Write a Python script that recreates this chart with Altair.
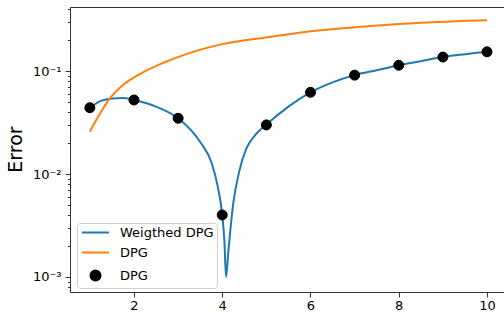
import altair as alt
import pandas as pd

# Weighted DPG curve
w_k = [1.0, 1.25, 1.5, 1.75, 2.0, 2.5, 3.0, 3.5, 3.76, 3.9, 4.0, 4.05, 4.085, 4.14, 4.25, 4.39, 4.55, 4.75, 5.0,
       5.5, 6.0, 6.5, 7.0, 7.5, 8.0, 8.5, 9.0, 9.5, 10.0]
w_err = [0.0441, 0.0513, 0.0542, 0.0548, 0.0524, 0.0451, 0.0348, 0.0205, 0.0128, 0.0075, 0.0040, 0.0022, 0.0010,
         0.0018, 0.0052, 0.0108, 0.0178, 0.0240, 0.0302,
         0.0452, 0.0622, 0.0778, 0.0914, 0.102, 0.114, 0.125, 0.137, 0.146, 0.154]

# DPG curve
d_k = [1.0, 1.25, 1.44, 1.68, 1.9, 2.0, 2.59, 2.82, 3.3, 3.95, 5.08, 6.22, 7.35, 8.63, 10.0]
d_err = [0.0258, 0.040, 0.0535, 0.069, 0.0818, 0.087, 0.117, 0.128, 0.152, 0.181, 0.215, 0.249, 0.274, 0.297, 0.312]

# DPG points
p_k = [1, 2, 3, 4, 5, 6, 7, 8, 9, 10]
p_err = [0.0441, 0.0524, 0.0348, 0.0040, 0.0300, 0.0622, 0.0914, 0.114, 0.137, 0.154]

x_ticks = [2, 4, 6, 8, 10]
y_major = [0.001, 0.01, 0.1]
y_minor = [0.0008, 0.0009, 0.002, 0.003, 0.004, 0.005, 0.006, 0.007, 0.008, 0.009,
           0.02, 0.03, 0.04, 0.05, 0.06, 0.07, 0.08, 0.09, 0.2, 0.3, 0.4]

series_names = ["Weigthed DPG", "DPG", "DPG "]
line_colors = ["#1f77b4", "#ff7f0e"]
LINE_SYMBOL = "M-2.7,0H2.7"

lines_df = pd.DataFrame({
    "k": w_k + d_k,
    "err": w_err + d_err,
    "series": ["Weigthed DPG"] * len(w_k) + ["DPG"] * len(d_k),
})
pts_df = pd.DataFrame({"k": p_k, "err": p_err, "series": ["DPG "] * len(p_k)})

FONT = "DejaVu Sans"
xdom = [0.55, 10.385]
ydom = [0.000713, 0.420]

xscale = alt.Scale(domain=xdom, nice=False, zero=False)
yscale = alt.Scale(type="log", domain=ydom, nice=False)

x_axis = alt.Axis(values=x_ticks, tickSize=5, labelPadding=2, labelFontSize=13, labelFont=FONT,
                  labelColor="#000", domainColor="#333", tickColor="#333", grid=False,
                  title="k values", titleFont=FONT, titleFontSize=19, titleFontWeight="normal",
                  titleColor="#000", titleBaseline="alphabetic", titleY=327, titleX=217)
y_axis = alt.Axis(values=y_major, tickSize=5, labelPadding=4, labelFontSize=13, labelFont=FONT,
                  labelColor="#000", domainColor="#333", tickColor="#333", grid=False,
                  labelExpr="datum.value > 0.05 ? '10⁻¹' : (datum.value > 0.005 ? '10⁻²' : '10⁻³')",
                  title="Error", titleFont=FONT, titleFontSize=19, titleFontWeight="normal",
                  titleColor="#000", titleAngle=270, titleBaseline="alphabetic", titleX=-49,
                  titleY=142, orient="left")

lines = alt.Chart(lines_df).mark_line(strokeWidth=2, interpolate="monotone", clip=True).encode(
    x=alt.X("k:Q", scale=xscale, axis=x_axis),
    y=alt.Y("err:Q", scale=yscale, axis=y_axis),
    color=alt.Color("series:N", scale=alt.Scale(domain=series_names[:2], range=line_colors), legend=None),
    detail="series:N",
)

top_axis = alt.Axis(orient="top", ticks=False, labels=False, title=None, domainColor="#333", grid=False)
minor_axis = alt.Axis(orient="left", values=y_minor, tickSize=2.5, labels=False, title=None,
                      domain=False, tickColor="#333", grid=False)

legend = alt.Legend(orient="none", legendX=7, legendY=216, title=None, labelFont=FONT, labelFontSize=13,
                    labelColor="#000", labelOffset=18, symbolOffset=9, symbolSize=100,
                    fillColor="white", strokeColor="#d0d0d0",
                    cornerRadius=3, padding=3, symbolStrokeWidth=2, rowPadding=6)

points = alt.Chart(pts_df).mark_point(filled=True, strokeWidth=1, opacity=1, size=100).encode(
    x=alt.X("k:Q", scale=xscale, axis=top_axis),
    y=alt.Y("err:Q", scale=yscale, axis=minor_axis),
    stroke=alt.Stroke("series:N", scale=alt.Scale(domain=series_names, range=line_colors + ["#000"]), legend=legend),
    fill=alt.Fill("series:N", scale=alt.Scale(domain=series_names, range=["transparent", "transparent", "#000"]), legend=legend),
    shape=alt.Shape("series:N", scale=alt.Scale(domain=series_names, range=[LINE_SYMBOL, LINE_SYMBOL, "circle"]), legend=legend),
)

chart = alt.layer(lines, points).resolve_axis(x="independent", y="independent").properties(
    width=434, height=285,
    autosize=alt.AutoSizeParams(type="none"),
    padding={"left": 70, "top": 7, "right": 0, "bottom": 44},
).configure_view(stroke=None).configure(background="white")

chart.save("out.html", embed_options={"renderer": "svg", "actions": False})
